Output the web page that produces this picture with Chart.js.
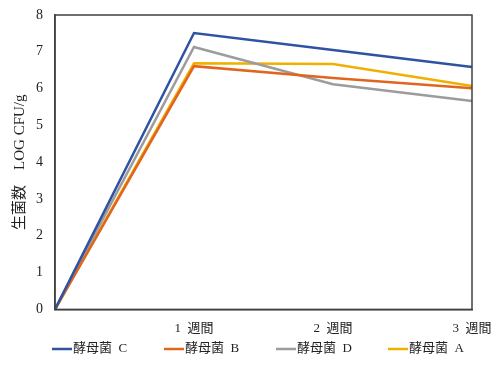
<!DOCTYPE html>
<html>
<head>
<meta charset="utf-8">
<script src="https://cdn.jsdelivr.net/npm/chart.js@4/dist/chart.umd.min.js"></script>
<style>
  body { margin: 0; background: #fff; }
  #wrap { width: 500px; height: 371px; }
</style>
</head>
<body>
<div id="wrap"><canvas id="myChart" width="500" height="371"></canvas></div>
<script>
var weeks = ["", "1\u2002週間", "2\u2002週間", "3\u2002週間"];
var strainC = [0, 7.51, 7.05, 6.59];
var strainB = [0, 6.61, 6.29, 6.01];
var strainD = [0, 7.13, 6.12, 5.66];
var strainA = [0, 6.69, 6.67, 6.07];

var fontFam = '"Liberation Serif", "Noto Sans CJK JP", serif';

// box round the plot area + the legend row under the axis labels
var frame = {
  id: "frame",
  afterDatasetsDraw: function (chart) {
    var a = chart.chartArea, ctx = chart.ctx;
    ctx.save();
    ctx.strokeStyle = "#404040";
    ctx.lineWidth = 1.5;
    ctx.strokeRect(a.left, a.top, a.right - a.left, a.bottom - a.top);
    ctx.restore();
  },
  afterDraw: function (chart) {
    var ctx = chart.ctx;
    var sets = chart.data.datasets;
    ctx.save();
    ctx.font = "13px " + fontFam;
    ctx.textBaseline = "middle";
    ctx.fillStyle = "#222";
    for (let i = 0; i < sets.length; i++) {
      var x = 52 + i * 112;
      var y = 349;
      ctx.strokeStyle = sets[i].borderColor;
      ctx.lineWidth = 2.5;
      ctx.beginPath();
      ctx.moveTo(x, y);
      ctx.lineTo(x + 20, y);
      ctx.stroke();
      ctx.fillText(sets[i].label, x + 21, y);
    }
    ctx.restore();
  }
};

function line(label, data, color) {
  return {
    label: label,
    data: data,
    borderColor: color,
    backgroundColor: color,
    borderWidth: 2.5,
    pointRadius: 0,
    tension: 0,
    fill: false
  };
}

new Chart("myChart", {
  type: "line",
  data: {
    labels: weeks,
    datasets: [
      line("酵母菌\u2002C", strainC, "#2F53A2"),
      line("酵母菌\u2002B", strainB, "#E0651F"),
      line("酵母菌\u2002D", strainD, "#9C9C9C"),
      line("酵母菌\u2002A", strainA, "#F0B000")
    ]
  },
  options: {
    responsive: false,
    animation: false,
    layout: { padding: { left: 0, right: 0, top: 15, bottom: 32 } },
    plugins: {
      legend: { display: false },
      tooltip: { enabled: false }
    },
    scales: {
      x: {
        offset: false,
        grid: { display: false },
        border: { display: true, color: "#404040", width: 1.5 },
        ticks: { color: "#222", font: { family: fontFam, size: 13 }, maxRotation: 0, autoSkip: false, padding: 3 },
        afterFit: function (scale) { scale.paddingRight = 28; scale.paddingLeft = 0; }
      },
      y: {
        min: 0,
        max: 8,
        grid: { display: false },
        border: { display: true, color: "#404040", width: 1.5 },
        ticks: { stepSize: 1, color: "#222", font: { family: fontFam, size: 14 }, padding: 4 },
        title: {
          display: true,
          text: "生菌数　LOG CFU/g",
          color: "#222",
          font: { family: fontFam, size: 15 },
          padding: { top: 11, bottom: 4 }
        },
        afterFit: function (scale) { scale.width = 55; scale.paddingTop = 0; scale.paddingBottom = 0; }
      }
    }
  },
  plugins: [frame]
});
</script>
</body>
</html>
